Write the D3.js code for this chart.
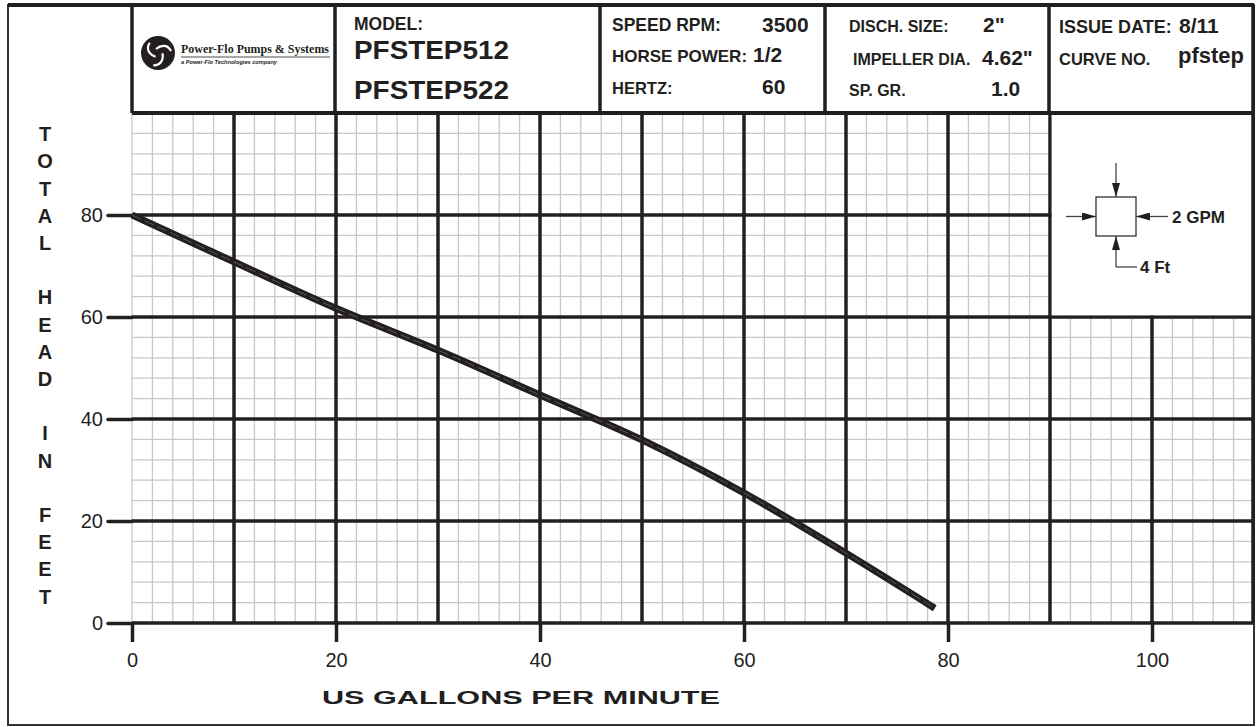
<!DOCTYPE html>
<html>
<head>
<meta charset="utf-8">
<script src="https://cdn.jsdelivr.net/npm/d3@7"></script>
<style>
  body { margin: 0; background: #fff; }
  svg { display: block; font-family: "Liberation Sans", Arial, sans-serif; }
</style>
</head>
<body>
<div class="chart"></div>
<script>
'use strict';

// pump curve
const flowGpm = [0, 10, 20, 30, 40, 50, 60, 70, 78.7];
const headFt = [80, 70.8, 61.7, 53.5, 44.7, 35.9, 25.5, 13.7, 2.9];

const xTicks = [0, 20, 40, 60, 80, 100];
const yTicks = [0, 20, 40, 60, 80];
const xMajor = [10, 20, 30, 40, 50, 60, 70, 80, 90, 100];
const yMajor = [20, 40, 60, 80];
const xMinorStep = 2;
const yMinorStep = 4;

const headerLabels = [
  {text: 'MODEL:', x: 354, y: 30, size: 17.5},
  {text: 'SPEED RPM:', x: 612, y: 31, size: 17.5},
  {text: 'HORSE POWER:', x: 612, y: 62, size: 17},
  {text: 'HERTZ:', x: 612, y: 94, size: 16.5},
  {text: 'DISCH. SIZE:', x: 849, y: 32, size: 16},
  {text: 'IMPELLER DIA.', x: 853, y: 65, size: 16},
  {text: 'SP. GR.', x: 849, y: 96, size: 16},
  {text: 'ISSUE DATE:', x: 1059, y: 33, size: 18},
  {text: 'CURVE NO.', x: 1059, y: 65, size: 16.5}
];
const headerValues = [
  {text: 'PFSTEP512', x: 354, y: 59, size: 26, len: 155},
  {text: 'PFSTEP522', x: 354, y: 99, size: 26, len: 155},
  {text: '3500', x: 762, y: 32, size: 21},
  {text: '1/2', x: 753, y: 62, size: 21},
  {text: '60', x: 762, y: 94, size: 21},
  {text: '2"', x: 983, y: 32, size: 21},
  {text: '4.62"', x: 982, y: 65, size: 21},
  {text: '1.0', x: 991, y: 96, size: 21},
  {text: '8/11', x: 1179, y: 33, size: 21},
  {text: 'pfstep', x: 1178, y: 63, size: 22}
];
const yTitle = 'TOTAL HEAD IN FEET';
const xTitle = 'US GALLONS PER MINUTE';

const W = 1256, H = 727;
const ink = '#231f20';
const plot = {left: 132, right: 1254, top: 113, bottom: 623};

const svg = d3.select('.chart').append('svg')
  .attr('width', W)
  .attr('height', H);

const x = d3.scaleLinear().domain([0, 110]).range([plot.left, plot.right]);
const y = d3.scaleLinear().domain([0, 100]).range([plot.bottom, plot.top]);

// minor grid
const grid = svg.append('g');
grid.selectAll('.vminor')
  .data(d3.range(0, 110 + 0.01, xMinorStep))
  .enter().append('line')
  .attr('x1', d => x(d)).attr('x2', d => x(d))
  .attr('y1', y(0)).attr('y2', y(100))
  .attr('stroke', '#c8c8cb').attr('stroke-width', 1.3);
grid.selectAll('.hminor')
  .data(d3.range(0, 100 + 0.01, yMinorStep))
  .enter().append('line')
  .attr('x1', x(0)).attr('x2', x(110))
  .attr('y1', d => y(d)).attr('y2', d => y(d))
  .attr('stroke', '#c8c8cb').attr('stroke-width', 1.3);

// major grid
grid.selectAll('.vmajor')
  .data(xMajor)
  .enter().append('line')
  .attr('x1', d => x(d)).attr('x2', d => x(d))
  .attr('y1', y(0)).attr('y2', y(100))
  .attr('stroke', ink).attr('stroke-width', 3.5);
grid.selectAll('.hmajor')
  .data(yMajor)
  .enter().append('line')
  .attr('x1', x(0)).attr('x2', x(110))
  .attr('y1', d => y(d)).attr('y2', d => y(d))
  .attr('stroke', ink).attr('stroke-width', 3.5);

// legend box blanks the grid in the upper right
svg.append('rect')
  .attr('x', x(90) + 1.75)
  .attr('y', y(100))
  .attr('width', x(110) - x(90) - 1.75)
  .attr('height', y(60) - y(100) - 1.75)
  .attr('fill', '#fff');

// axes
const yAxis = svg.append('g')
  .attr('transform', `translate(${x(0)},0)`)
  .call(d3.axisLeft(y).tickValues(yTicks).tickSize(24).tickPadding(5).tickFormat(d3.format('d')));
const xAxis = svg.append('g')
  .attr('transform', `translate(0,${y(0)})`)
  .call(d3.axisBottom(x).tickValues(xTicks).tickSize(19).tickPadding(11).tickFormat(d3.format('d')));
[yAxis, xAxis].forEach(a => {
  a.select('.domain').attr('stroke', ink).attr('stroke-width', 3.5);
  a.selectAll('.tick line').attr('stroke', ink).attr('stroke-width', 3.5).attr('stroke-linecap', 'round');
  a.selectAll('.tick text').attr('fill', ink).attr('font-size', 20)
    .attr('font-family', '"Liberation Sans", Arial, sans-serif');
});
yAxis.select('.domain').remove();
xAxis.select('.domain').attr('d', `M${x(0)},0H${x(110)}`);
xAxis.selectAll('.tick line').attr('stroke-linecap', 'butt');

// pump curve
const pts = flowGpm.map((f, i) => [f, headFt[i]]);
const line = d3.line()
  .x(d => x(d[0]))
  .y(d => y(d[1]))
  .curve(d3.curveMonotoneX);
svg.append('path')
  .attr('d', line(pts))
  .attr('fill', 'none')
  .attr('stroke', ink)
  .attr('stroke-width', 7);
svg.append('path')
  .attr('d', line(pts))
  .attr('fill', 'none')
  .attr('stroke', '#7a7a7a')
  .attr('stroke-width', 0.6)
  .attr('stroke-dasharray', '10 4');

// frames
svg.append('rect')
  .attr('x', 8).attr('y', 5)
  .attr('width', 1246).attr('height', 720)
  .attr('fill', 'none').attr('stroke', '#333').attr('stroke-width', 2);
const header = svg.append('g');
header.append('line')
  .attr('x1', 8).attr('x2', 1254).attr('y1', 5).attr('y2', 5)
  .attr('stroke', ink).attr('stroke-width', 4);
header.append('line')
  .attr('x1', plot.left).attr('x2', plot.right).attr('y1', plot.top).attr('y2', plot.top)
  .attr('stroke', ink).attr('stroke-width', 4);
header.selectAll('.div')
  .data([132, 335, 600, 825, 1049])
  .enter().append('line')
  .attr('x1', d => d).attr('x2', d => d)
  .attr('y1', 5).attr('y2', plot.top)
  .attr('stroke', ink).attr('stroke-width', 3.5);
header.append('line')
  .attr('x1', 1253).attr('x2', 1253).attr('y1', 5).attr('y2', plot.bottom)
  .attr('stroke', ink).attr('stroke-width', 3.5);

header.selectAll('.lbl')
  .data(headerLabels)
  .enter().append('text')
  .attr('x', d => d.x).attr('y', d => d.y)
  .attr('font-size', d => d.size)
  .attr('font-weight', 'bold')
  .attr('fill', ink)
  .text(d => d.text);
header.selectAll('.val')
  .data(headerValues)
  .enter().append('text')
  .attr('x', d => d.x).attr('y', d => d.y)
  .attr('font-size', d => d.size)
  .attr('font-weight', 'bold')
  .attr('fill', ink)
  .each(function(d) {
    if (d.len) {
      d3.select(this).attr('textLength', d.len).attr('lengthAdjust', 'spacingAndGlyphs');
    }
  })
  .text(d => d.text);

// logo
const logo = svg.append('g').attr('transform', 'translate(158,53)');
logo.append('circle').attr('r', 17).attr('fill', ink);
[0, 120, 240].forEach(a => {
  logo.append('path')
    .attr('d', 'M-2,-4 C4,-9 10,-8 13,-2')
    .attr('transform', `rotate(${a})`)
    .attr('fill', 'none')
    .attr('stroke', '#fff')
    .attr('stroke-width', 2.2);
});
svg.append('text')
  .attr('x', 181).attr('y', 53)
  .attr('font-family', '"Liberation Serif", "DejaVu Serif", serif')
  .attr('font-weight', 'bold')
  .attr('font-size', 12.5)
  .attr('textLength', 148)
  .attr('lengthAdjust', 'spacingAndGlyphs')
  .attr('fill', ink)
  .text('Power-Flo Pumps & Systems');
svg.append('line')
  .attr('x1', 181).attr('x2', 330).attr('y1', 57).attr('y2', 57)
  .attr('stroke', ink).attr('stroke-width', 0.8);
svg.append('text')
  .attr('x', 181).attr('y', 64)
  .attr('font-size', 5.5)
  .attr('font-style', 'italic')
  .attr('font-weight', 'bold')
  .attr('textLength', 96)
  .attr('lengthAdjust', 'spacingAndGlyphs')
  .attr('fill', ink)
  .text('a Power-Flo Technologies company');

// legend: 2 GPM by 4 Ft cell
const lg = svg.append('g');
const defs = svg.append('defs');
defs.append('marker')
  .attr('id', 'arr')
  .attr('viewBox', '0 0 14 8')
  .attr('refX', 14).attr('refY', 4)
  .attr('markerWidth', 14).attr('markerHeight', 8)
  .attr('markerUnits', 'userSpaceOnUse')
  .attr('orient', 'auto')
  .append('path').attr('d', 'M0,0L14,4L0,8Z').attr('fill', ink);
const cx0 = 1096, cy0 = 197, cw = 40, ch = 39;
lg.append('rect')
  .attr('x', cx0).attr('y', cy0).attr('width', cw).attr('height', ch)
  .attr('fill', '#fff').attr('stroke', ink).attr('stroke-width', 1.2);
const arrows = [
  [cx0 + cw / 2, 163, cx0 + cw / 2, cy0],
  [1066, cy0 + ch / 2, cx0, cy0 + ch / 2],
  [1168, cy0 + ch / 2, cx0 + cw, cy0 + ch / 2],
  [cx0 + cw / 2, 267, cx0 + cw / 2, cy0 + ch]
];
arrows.forEach(a => {
  lg.append('line')
    .attr('x1', a[0]).attr('y1', a[1]).attr('x2', a[2]).attr('y2', a[3])
    .attr('stroke', '#444').attr('stroke-width', 1.3)
    .attr('marker-end', 'url(#arr)');
});
lg.append('line')
  .attr('x1', cx0 + cw / 2).attr('x2', 1137).attr('y1', 267).attr('y2', 267)
  .attr('stroke', '#444').attr('stroke-width', 1.3);
lg.append('text')
  .attr('x', 1172).attr('y', cy0 + ch / 2 + 6)
  .attr('font-size', 17).attr('font-weight', 'bold').attr('fill', ink)
  .text('2 GPM');
lg.append('text')
  .attr('x', 1140).attr('y', 273)
  .attr('font-size', 17).attr('font-weight', 'bold').attr('fill', ink)
  .text('4 Ft');

// axis titles
svg.append('g')
  .selectAll('text')
  .data(yTitle.split(''))
  .enter().append('text')
  .attr('x', 45)
  .attr('y', (d, i) => 134 + i * 27.2)
  .attr('dy', '0.36em')
  .attr('text-anchor', 'middle')
  .attr('font-size', 20)
  .attr('font-weight', 'bold')
  .attr('fill', ink)
  .text(d => d);
svg.append('text')
  .attr('x', 322).attr('y', 704)
  .attr('font-size', 19)
  .attr('font-weight', 'bold')
  .attr('textLength', 398)
  .attr('lengthAdjust', 'spacingAndGlyphs')
  .attr('fill', ink)
  .text(xTitle);
</script>
</body>
</html>
